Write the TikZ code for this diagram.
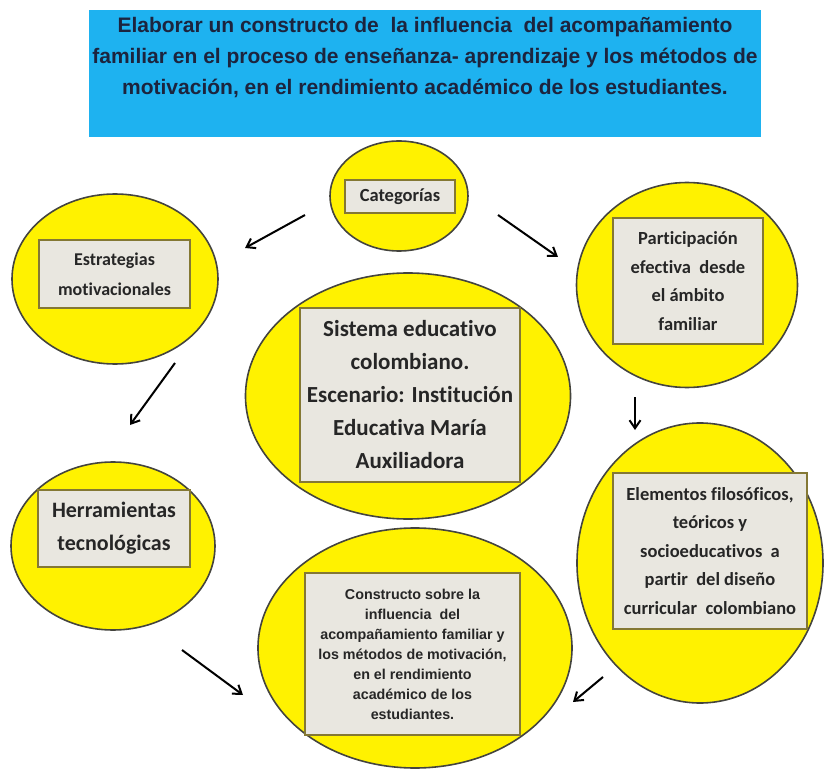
\documentclass[tikz,border=0pt]{standalone}
\usepackage{fontspec}
\usetikzlibrary{shapes.geometric, arrows.meta}
\newfontfamily\titlefont{Liberation Sans}
\newfontfamily\cardfont{Carlito}[Ligatures=NoCommon]
\newfontfamily\smallfont{Liberation Sans}
\definecolor{titleblue}{RGB}{30,178,240}
\definecolor{titleink}{RGB}{28,36,62}
\definecolor{bubbleline}{RGB}{68,68,62}
\definecolor{cardfill}{RGB}{233,231,224}
\definecolor{cardline}{RGB}{132,120,52}
\tikzset{
    % yellow bubbles
    bubble/.style = {ellipse, draw=bubbleline, line width=1.6pt, fill=yellow, inner sep=0pt},
    % grey cards inside the bubbles
    card/.style = {rectangle, draw=cardline, line width=1.3pt, fill=cardfill, inner sep=0pt, align=center, text=black!85},
    % short black arrows
    link/.style = {line width=2pt, -{Straight Barb[length=8pt, width=11pt, line width=2pt]}}
}

\begin{document}
\begin{tikzpicture}[x=1pt, y=-1pt]
        \useasboundingbox (0,0) rectangle (825,770);
        % title banner
        \node[rectangle, fill=titleblue, minimum width=672pt, minimum height=127pt] (title) at (425,73.5) {};
        \node[align=center, text=titleink, font={\titlefont\bfseries\fontsize{21}{31}\selectfont}] (titletxt) at (425,58)
            {Elaborar un constructo de\ \ la influencia\ \ del acompañamiento\\
             familiar en el proceso de enseñanza- aprendizaje y los métodos de\\
             motivación, en el rendimiento académico de los estudiantes.};

        % bubbles
        \node[bubble, minimum width=138pt, minimum height=110pt] (cat) at (399,196) {};
        \node[bubble, minimum width=206pt, minimum height=170pt] (estr) at (115,279) {};
        \node[bubble, minimum width=325pt, minimum height=246pt] (sist) at (408,396) {};
        \node[bubble, minimum width=221pt, minimum height=205pt] (part) at (687,285) {};
        \node[bubble, minimum width=204pt, minimum height=168pt] (herr) at (113,546) {};
        \node[bubble, minimum width=246pt, minimum height=280pt] (elem) at (700,563) {};
        \node[bubble, minimum width=314pt, minimum height=240pt] (cons) at (415,648) {};

        % cards with the texts
        \node[card, minimum width=110pt, minimum height=33pt, font={\cardfont\bfseries\fontsize{18.5}{28}\selectfont}] (catcard) at (400,196.5) {Categorías};
        \node[card, minimum width=151pt, minimum height=68pt, font={\cardfont\bfseries\fontsize{18}{30}\selectfont}] (estrcard) at (114.5,274)
            {Estrategias\\ motivacionales};
        \node[card, minimum width=220pt, minimum height=174pt, font={\cardfont\bfseries\fontsize{23}{33}\selectfont}] (sistcard) at (410,395)
            {Sistema educativo\\ colombiano.\\ Escenario: Institución\\ Educativa María\\ Auxiliadora};
        \node[card, minimum width=150pt, minimum height=126pt, font={\cardfont\bfseries\fontsize{18.5}{28.5}\selectfont}] (partcard) at (688,281)
            {Participación\\ efectiva\ \ desde\\ el ámbito\\ familiar};
        \node[card, minimum width=152pt, minimum height=77pt, font={\cardfont\bfseries\fontsize{22}{33}\selectfont}] (herrcard) at (114,528.5)
            {Herramientas\\ tecnológicas};
        \node[card, minimum width=194pt, minimum height=156pt, font={\cardfont\bfseries\fontsize{18.5}{28.5}\selectfont}] (elemcard) at (710,551)
            {Elementos filosóficos,\\ teóricos y\\ socioeducativos\ \ a\\ partir\ \ del diseño\\ curricular\ \ colombiano};
        \node[card, minimum width=215pt, minimum height=162pt, font={\smallfont\bfseries\fontsize{14.3}{20}\selectfont}] (conscard) at (412.5,654)
            {Constructo sobre la\\ influencia\ \ del\\ acompañamiento familiar y\\ los métodos de motivación,\\ en el rendimiento\\ académico de los\\ estudiantes.};

        % arrow ends
        \coordinate (catL) at (305,215);
        \coordinate (estrR) at (245,248);
        \coordinate (catR) at (498,215);
        \coordinate (partL) at (558,257);
        \coordinate (estrB) at (175,363);
        \coordinate (herrT) at (130,425);
        \coordinate (partB) at (635,397);
        \coordinate (elemT) at (635,430);
        \coordinate (herrB) at (182,650);
        \coordinate (consL) at (243,695);
        \coordinate (elemB) at (603,677);
        \coordinate (consR) at (573,702);

        % arrows
        \draw[link] (catL) -- (estrR);
        \draw[link] (catR) -- (partL);
        \draw[link] (estrB) -- (herrT);
        \draw[link] (partB) -- (elemT);
        \draw[link] (herrB) -- (consL);
        \draw[link] (elemB) -- (consR);
    \end{tikzpicture}
\end{document}
